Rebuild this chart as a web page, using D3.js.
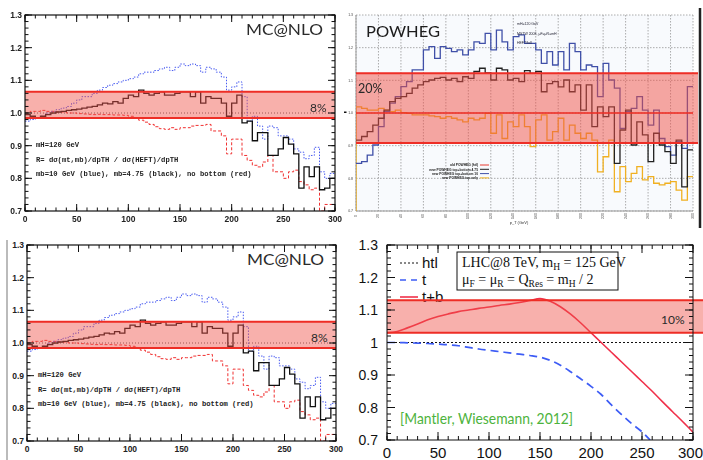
<!DOCTYPE html>
<html>
<head>
<meta charset="utf-8">
<script src="https://cdn.jsdelivr.net/npm/d3@7"></script>
<style>
body { margin: 0; background: #fff; }
svg { display: block; }
</style>
</head>
<body>
<svg id="chart" width="703" height="460"></svg>
<script>
// ---- data ----
// MC@NLO ratio histograms, 5 GeV bins from 0 to 300
const mcBinWidth = 5;
const mcBlack = [0.995,0.99,0.985,0.99,0.995,1.0,1.003,1.005,1.008,1.01,
  1.012,1.015,1.018,1.02,1.025,1.03,1.028,1.035,1.03,1.045,
  1.055,1.05,1.07,1.06,1.055,1.06,1.065,1.055,1.055,1.06,
  1.065,1.065,1.05,1.065,1.03,1.05,1.045,1.045,1.03,0.99,
  1.03,1.055,0.97,0.975,0.915,0.94,0.94,0.87,0.87,0.89,
  0.925,0.905,0.875,0.77,0.835,0.805,0.835,0.765,0.77,0.8];
const mcBlue = [0.975,0.98,0.985,0.99,1.0,1.005,1.01,1.015,1.02,1.03,
  1.04,1.05,1.05,1.06,1.07,1.078,1.085,1.09,1.095,1.1,
  1.105,1.11,1.12,1.125,1.125,1.13,1.135,1.14,1.13,1.14,
  1.15,1.145,1.15,1.145,1.125,1.14,1.135,1.125,1.11,1.07,
  1.08,1.095,1.05,0.975,0.99,0.96,0.92,0.96,0.955,0.93,
  0.93,0.92,0.89,0.88,0.86,0.87,0.895,0.82,0.8,0.815];
const mcRed = [1.0,1.005,1.005,1.008,1.005,1.005,1.003,1.003,1.0,1.0,
  0.998,0.997,0.996,0.995,0.996,0.995,0.995,0.994,0.994,0.993,
  0.99,0.985,0.978,0.972,0.965,0.958,0.952,0.95,0.955,0.95,
  0.955,0.955,0.96,0.962,0.962,0.965,0.945,0.945,0.93,0.875,
  0.92,0.92,0.87,0.855,0.84,0.835,0.85,0.87,0.82,0.82,
  0.8,0.82,0.825,0.79,0.78,0.765,0.77,0.7,0.72,0.72];

// POWHEG ratio histograms, 5 GeV bins
const pwBinWidth = 5;
const pwBlack = [0.917,0.928,0.943,0.963,0.984,1.009,1.035,1.045,1.05,1.06,
  1.076,1.086,1.096,1.101,1.106,1.109,1.101,1.106,1.096,1.111,
  1.106,1.127,1.137,1.123,1.101,1.137,1.132,1.101,1.106,1.096,
  1.13,1.121,1.127,1.065,1.09,1.096,1.08,1.101,1.065,1.086,
  1.009,1.086,0.958,1.019,0.989,1.019,0.846,0.948,1.009,0.902,
  0.973,0.933,0.851,0.938,0.902,0.882,0.846,0.917,0.774,0.887];
const pwBlue = [0.846,0.851,0.871,0.902,0.958,1.004,1.03,1.05,1.081,1.096,
  1.132,1.132,1.193,1.203,1.167,1.203,1.198,1.188,1.193,1.178,
  1.193,1.218,1.213,1.244,1.193,1.254,1.218,1.193,1.234,1.239,
  1.213,1.213,1.193,1.152,1.188,1.147,1.188,1.132,1.213,1.188,
  1.132,1.147,1.142,1.05,1.152,1.101,1.076,0.953,1.004,1.014,
  1.05,1.009,0.963,1.009,0.922,0.897,0.871,0.912,0.892,1.081];
const pwOrange = [1.019,1.014,1.009,1.009,1.014,1.009,1.004,1.009,1.001,0.999,
  0.994,0.994,0.994,0.991,0.989,0.984,0.989,0.984,0.979,0.973,
  0.984,0.979,0.984,0.999,0.938,0.994,0.922,0.973,0.958,0.994,
  0.958,0.897,0.979,0.994,0.917,0.943,0.984,0.917,0.963,0.938,
  0.922,0.938,0.917,0.82,0.866,0.917,0.759,0.836,0.79,0.815,
  0.836,0.795,0.805,0.785,0.78,0.785,0.79,0.764,0.733,0.805];
const pwLegend = ["old POWHEG (htl)", "new POWHEG top+bottom 4.75", "new POWHEG top+bottom 10", "new POWHEG top only"];
const pwColors = ["#e83a30", "#222222", "#3f50a8", "#f0b020"];

// Mantler-Wiesemann curves
const mwTbX = [0,10,20,30,40,50,60,70,80,90,100,110,120,130,140,150,160,170,180,190,200,210,220,230,240,250,260,270,280,290,300];
const mwTb = [1.03,1.034,1.045,1.057,1.07,1.08,1.088,1.095,1.1,1.105,1.109,1.114,1.118,1.123,1.129,1.135,1.127,1.11,1.087,1.06,1.03,1.0,0.97,0.94,0.91,0.88,0.85,0.818,0.787,0.756,0.724];
const mwTX = [0,10,20,30,40,50,60,70,80,90,100,110,120,130,140,150,160,170,180,190,200,210,220,230,240,250,258];
const mwT = [1.0,1.0,0.999,0.998,0.997,0.995,0.993,0.99,0.985,0.98,0.976,0.972,0.968,0.964,0.96,0.955,0.945,0.93,0.91,0.888,0.865,0.84,0.808,0.778,0.75,0.725,0.7];
const mwHtl = [1.0, 1.0];

const yTicks = [0.7, 0.8, 0.9, 1.0, 1.1, 1.2, 1.3];
const xTicks = [0, 50, 100, 150, 200, 250, 300];
const pwXTicks = d3.range(0, 301, 20);

const svg = d3.select("#chart");
const defs = svg.append("defs");
defs.append("filter").attr("id", "soft")
  .append("feGaussianBlur").attr("stdDeviation", 0.45);

const bandFill = "rgb(240,80,70)";
const bandLine = "#ee2d25";

function histLine(x, y, vals, w) {
  const pts = vals.map((v, i) => [i * w, v]);
  pts.push([vals.length * w, vals[vals.length - 1]]);
  return d3.line().x(d => x(d[0])).y(d => y(d[1])).curve(d3.curveStepAfter)(pts);
}

function clipFor(id, x, y) {
  defs.append("clipPath").attr("id", id).append("rect")
    .attr("x", x.range()[0]).attr("y", y.range()[1])
    .attr("width", x.range()[1] - x.range()[0])
    .attr("height", y.range()[0] - y.range()[1]);
}

// inward ticks on all four sides
function innerTicks(g, x, y, xMaj, xMin, yMaj, yMin, big, small) {
  const [x0, x1] = x.range(), [y1, y0] = y.range();
  const seg = [];
  xMin.forEach(v => seg.push([x(v), y1, x(v), y1 - small], [x(v), y0, x(v), y0 + small]));
  xMaj.forEach(v => seg.push([x(v), y1, x(v), y1 - big], [x(v), y0, x(v), y0 + big]));
  yMin.forEach(v => seg.push([x0, y(v), x0 + small, y(v)], [x1, y(v), x1 - small, y(v)]));
  yMaj.forEach(v => seg.push([x0, y(v), x0 + big, y(v)], [x1, y(v), x1 - big, y(v)]));
  g.append("g").selectAll("line").data(seg).join("line")
    .attr("x1", d => d[0]).attr("y1", d => d[1]).attr("x2", d => d[2]).attr("y2", d => d[3])
    .attr("stroke", "#111").attr("stroke-width", 1);
}

// ---- MC@NLO panel (drawn twice) ----
function mcPanel(id, left, right, top, bottom, blur, texts) {
  const g = svg.append("g");
  if (blur) g.attr("filter", "url(#soft)");
  const x = d3.scaleLinear().domain([0, 300]).range([left, right]);
  const y = d3.scaleLinear().domain([0.7, 1.3]).range([bottom, top]);
  clipFor(id, x, y);
  const inner = g.append("g").attr("clip-path", `url(#${id})`);

  inner.append("line")
    .attr("x1", x(0)).attr("x2", x(300)).attr("y1", y(1)).attr("y2", y(1))
    .attr("stroke", "#333").attr("stroke-width", 0.8).attr("stroke-dasharray", "1,2");
  inner.append("path").attr("d", histLine(x, y, mcRed, mcBinWidth))
    .attr("fill", "none").attr("stroke", "#f03030").attr("stroke-width", 1).attr("stroke-dasharray", "3,2");
  inner.append("path").attr("d", histLine(x, y, mcBlue, mcBinWidth))
    .attr("fill", "none").attr("stroke", "#4a5cf0").attr("stroke-width", 1).attr("stroke-dasharray", "1.5,1.5");
  inner.append("path").attr("d", histLine(x, y, mcBlack, mcBinWidth))
    .attr("fill", "none").attr("stroke", "#111").attr("stroke-width", 1.3);

  // 8% band
  g.append("rect").attr("x", x(0)).attr("width", x(300) - x(0))
    .attr("y", y(1.065)).attr("height", y(0.985) - y(1.065))
    .attr("fill", bandFill).attr("fill-opacity", 0.45);
  [1.065, 0.985].forEach(v => g.append("line")
    .attr("x1", x(0)).attr("x2", x(300)).attr("y1", y(v)).attr("y2", y(v))
    .attr("stroke", bandLine).attr("stroke-width", 2));

  g.append("rect").attr("x", left).attr("y", top).attr("width", right - left).attr("height", bottom - top)
    .attr("fill", "none").attr("stroke", "#111").attr("stroke-width", 1.2);
  innerTicks(g, x, y, xTicks, d3.range(0, 301, 10), yTicks, d3.range(0.7, 1.301, 0.02), 7, 3.5);

  g.append("g").selectAll("text").data(yTicks).join("text")
    .attr("x", left - 3).attr("y", d => y(d) + 3).attr("text-anchor", "end")
    .attr("font-family", "Liberation Sans, Arial, sans-serif").attr("font-weight", "bold")
    .attr("font-size", 8.5).attr("fill", "#222").text(d => d.toFixed(1));
  g.append("g").selectAll("text").data(xTicks).join("text")
    .attr("x", d => x(d)).attr("y", bottom + 11).attr("text-anchor", "middle")
    .attr("font-family", "Liberation Sans, Arial, sans-serif").attr("font-weight", "bold")
    .attr("font-size", 8.5).attr("fill", "#222").text(d => d);

  g.append("text").attr("x", right - 89).attr("y", top + 20)
    .attr("font-family", "Lato, 'Open Sans', sans-serif").attr("font-size", 15)
    .attr("textLength", 77).attr("lengthAdjust", "spacingAndGlyphs")
    .attr("fill", "#2a2a2a").text("MC@NLO");
  g.append("text").attr("x", right - 25).attr("y", y(1.0) - 1)
    .attr("font-family", "Lato, 'Open Sans', sans-serif").attr("font-size", 12)
    .attr("fill", "#2a2a2a").text("8%");

  texts.forEach((t, i) => g.append("text")
    .attr("x", left + 11).attr("y", y(0.895) + i * 14.5)
    .attr("font-family", "Liberation Mono, monospace").attr("font-weight", "bold")
    .attr("font-size", 7.2).attr("fill", "#222").text(t));
}

const mcTexts = ["mH=120 GeV", "R= d\u03c3(mt,mb)/dpTH / d\u03c3(HEFT)/dpTH",
  "mb=10 GeV (blue), mb=4.75 (black), no bottom (red)"];
mcPanel("clipA", 25, 335, 15, 211, true, mcTexts);
mcPanel("clipC", 27, 336, 245, 441, false, mcTexts);

// grey edge of the lower-left picture
svg.append("line").attr("x1", 7).attr("x2", 7).attr("y1", 240).attr("y2", 460)
  .attr("stroke", "#bbb").attr("stroke-width", 2);

// ---- POWHEG panel ----
(function () {
  const g = svg.append("g").attr("filter", "url(#soft)");
  const x = d3.scaleLinear().domain([0, 300]).range([356, 693]);
  const y = d3.scaleLinear().domain([0.7, 1.3]).range([211, 15]);
  clipFor("clipB", x, y);

  g.append("rect").attr("x", 356).attr("y", 15).attr("width", 337).attr("height", 196).attr("fill", "#f8fafd");
  g.append("g").selectAll("line").data(pwXTicks).join("line")
    .attr("x1", d => x(d)).attr("x2", d => x(d)).attr("y1", y(1.3)).attr("y2", y(0.7))
    .attr("stroke", "#8a8a8a").attr("stroke-width", 0.7).attr("stroke-dasharray", "1.5,1.5");
  g.append("g").selectAll("line").data(yTicks).join("line")
    .attr("x1", x(0)).attr("x2", x(300)).attr("y1", d => y(d)).attr("y2", d => y(d))
    .attr("stroke", "#8a8a8a").attr("stroke-width", 0.7).attr("stroke-dasharray", "1.5,1.5");
  g.append("line").attr("x1", x(0)).attr("x2", x(300)).attr("y1", y(0.7)).attr("y2", y(0.7))
    .attr("stroke", "#999").attr("stroke-width", 1);
  g.append("line").attr("x1", x(0)).attr("x2", x(0)).attr("y1", y(1.3)).attr("y2", y(0.7))
    .attr("stroke", "#999").attr("stroke-width", 1);

  const inner = g.append("g").attr("clip-path", "url(#clipB)");
  const orangePts = [[0, 0.7]].concat(pwOrange.map((v, i) => [i * pwBinWidth, v]), [[300, pwOrange[59]]]);
  inner.append("path")
    .attr("d", d3.line().x(d => x(d[0])).y(d => y(d[1])).curve(d3.curveStepAfter)(orangePts))
    .attr("fill", "none").attr("stroke", pwColors[3]).attr("stroke-width", 1.3);
  inner.append("path").attr("d", histLine(x, y, pwBlue, pwBinWidth))
    .attr("fill", "none").attr("stroke", pwColors[2]).attr("stroke-width", 1.3);
  inner.append("path").attr("d", histLine(x, y, pwBlack, pwBinWidth))
    .attr("fill", "none").attr("stroke", pwColors[1]).attr("stroke-width", 1.3);

  // 20% band
  g.append("rect").attr("x", 356).attr("width", 342)
    .attr("y", y(1.122)).attr("height", y(0.908) - y(1.122))
    .attr("fill", bandFill).attr("fill-opacity", 0.5);
  [1.122, 0.908].forEach(v => g.append("line")
    .attr("x1", 356).attr("x2", 698).attr("y1", y(v)).attr("y2", y(v))
    .attr("stroke", bandLine).attr("stroke-width", 2));
  g.append("line").attr("x1", 356).attr("x2", 693).attr("y1", y(1)).attr("y2", y(1))
    .attr("stroke", bandLine).attr("stroke-width", 1.4);

  // tiny tick labels
  g.append("g").selectAll("text").data(yTicks).join("text")
    .attr("x", 353).attr("y", d => y(d) + 1.2).attr("text-anchor", "end")
    .attr("font-family", "Liberation Sans, sans-serif").attr("font-size", 3.5).attr("fill", "#444")
    .text(d => d.toFixed(1));
  g.append("g").selectAll("text").data(pwXTicks).join("text")
    .attr("transform", d => `translate(${x(d) + 1},${216}) rotate(-90)`)
    .attr("text-anchor", "middle")
    .attr("font-family", "Liberation Sans, sans-serif").attr("font-size", 3.5).attr("fill", "#444")
    .text(d => d);
  g.append("text").attr("x", 519).attr("y", 224).attr("text-anchor", "middle")
    .attr("font-family", "Liberation Sans, sans-serif").attr("font-size", 4).attr("fill", "#333")
    .text("p_T (GeV)");

  ["mH=120 GeV", "MSTW 2008, \u03bcF=\u03bcR=mH", "HEFT/full"].forEach((t, i) => g.append("text")
    .attr("x", 517).attr("y", 25 + i * 9.5)
    .attr("font-family", "Liberation Sans, sans-serif").attr("font-size", 3.5).attr("fill", "#223")
    .text(t));

  // tiny legend
  pwLegend.forEach((t, i) => {
    const ly = 165 + i * 4.3;
    g.append("text").attr("x", 478).attr("y", ly + 1.2).attr("text-anchor", "end")
      .attr("font-family", "Liberation Sans, sans-serif").attr("font-size", 3.3).attr("font-weight", "bold")
      .attr("fill", "#222").text(t);
    g.append("line").attr("x1", 480).attr("x2", 489).attr("y1", ly).attr("y2", ly)
      .attr("stroke", pwColors[i]).attr("stroke-width", 1);
  });

  g.append("text").attr("x", 366).attr("y", 37)
    .attr("font-family", "Lato, 'Open Sans', sans-serif").attr("font-size", 15)
    .attr("textLength", 74).attr("lengthAdjust", "spacingAndGlyphs")
    .attr("fill", "#1a1a1a").text("POWHEG");
  g.append("text").attr("x", 358).attr("y", 93)
    .attr("font-family", "Lato, 'Open Sans', sans-serif").attr("font-size", 12.5)
    .attr("fill", "#2a2a2a").text("20%");

  svg.append("line").attr("x1", 700).attr("x2", 700).attr("y1", 8).attr("y2", 228)
    .attr("stroke", "#222").attr("stroke-width", 2.5);
  svg.append("rect").attr("x", 344).attr("y", 111.5).attr("width", 2.5).attr("height", 1.5).attr("fill", "#111");
})();

// ---- Mantler-Wiesemann panel ----
(function () {
  const g = svg.append("g");
  const left = 387, right = 693, top = 245, bottom = 440;
  const x = d3.scaleLinear().domain([0, 300]).range([left, right]);
  const y = d3.scaleLinear().domain([0.7, 1.3]).range([bottom, top]);
  clipFor("clipD", x, y);
  const inner = g.append("g").attr("clip-path", "url(#clipD)");
  const line = d3.line().x(d => x(d[0])).y(d => y(d[1])).curve(d3.curveMonotoneX);

  inner.append("path").attr("d", line([[0, mwHtl[0]], [300, mwHtl[1]]]))
    .attr("fill", "none").attr("stroke", "#111").attr("stroke-width", 1).attr("stroke-dasharray", "2,2");
  inner.append("path").attr("d", line(mwTX.map((v, i) => [v, mwT[i]])))
    .attr("fill", "none").attr("stroke", "#3d5cf5").attr("stroke-width", 1.7).attr("stroke-dasharray", "8,5");
  inner.append("path").attr("d", line(mwTbX.map((v, i) => [v, mwTb[i]])))
    .attr("fill", "none").attr("stroke", "#f0304a").attr("stroke-width", 1.6);

  // legend
  const lf = "Liberation Sans, Arial, sans-serif";
  const leg = [["htl", "#111", "2,2", 1], ["t", "#3d5cf5", "6,5", 1.7], ["t+b", "#f0304a", null, 1.6]];
  leg.forEach((d, i) => {
    const ly = 263 + i * 17;
    g.append("line").attr("x1", 400).attr("x2", 418).attr("y1", ly).attr("y2", ly)
      .attr("stroke", d[1]).attr("stroke-width", d[3]).attr("stroke-dasharray", d[2]);
    g.append("text").attr("x", 422).attr("y", ly + 5).attr("font-family", lf).attr("font-size", 15)
      .attr("fill", "#111").text(d[0]);
  });

  g.append("rect").attr("x", 457).attr("y", 252).attr("width", 161).attr("height", 38)
    .attr("fill", "#fff").attr("stroke", "#111").attr("stroke-width", 1);
  const sf = "Liberation Serif, 'Times New Roman', serif";
  const t1 = g.append("text").attr("x", 462).attr("y", 267).attr("font-family", sf).attr("font-size", 14).attr("fill", "#111");
  t1.append("tspan").text("LHC@8 TeV, m");
  t1.append("tspan").attr("font-size", 9.5).attr("dy", 3).text("H");
  t1.append("tspan").attr("dy", -3).text(" = 125 GeV");
  const t2 = g.append("text").attr("x", 462).attr("y", 284).attr("font-family", sf).attr("font-size", 14).attr("fill", "#111");
  [["\u03bc", "F", " = "], ["\u03bc", "R", " = "], ["Q", "Res", " = "], ["m", "H", " / 2"]].forEach(p => {
    t2.append("tspan").text(p[0]);
    t2.append("tspan").attr("font-size", 9.5).attr("dy", 3).text(p[1]);
    t2.append("tspan").attr("dy", -3).text(p[2]);
  });

  // 10% band
  g.append("rect").attr("x", left).attr("width", 703 - left)
    .attr("y", y(1.13)).attr("height", y(1.03) - y(1.13))
    .attr("fill", bandFill).attr("fill-opacity", 0.45);
  [1.13, 1.03].forEach(v => g.append("line")
    .attr("x1", left).attr("x2", 703).attr("y1", y(v)).attr("y2", y(v))
    .attr("stroke", bandLine).attr("stroke-width", 2));
  g.append("text").attr("x", 661).attr("y", 324)
    .attr("font-family", "Lato, 'Open Sans', sans-serif").attr("font-size", 12).attr("fill", "#2a2a2a").text("10%");

  g.append("rect").attr("x", left).attr("y", top).attr("width", right - left).attr("height", bottom - top)
    .attr("fill", "none").attr("stroke", "#111").attr("stroke-width", 1);
  innerTicks(g, x, y, xTicks, d3.range(0, 301, 10), yTicks, d3.range(0.7, 1.301, 0.02), 8, 4);

  g.append("g").selectAll("text").data(yTicks).join("text")
    .attr("x", left - 9).attr("y", d => y(d) + 5).attr("text-anchor", "end")
    .attr("font-family", lf).attr("font-size", 14).attr("fill", "#111")
    .text(d => d === 1 ? "1" : d.toFixed(1));
  g.append("g").selectAll("text").data(xTicks).join("text")
    .attr("x", d => d === 300 ? 703 : x(d)).attr("y", bottom + 18)
    .attr("text-anchor", d => d === 300 ? "end" : "middle")
    .attr("font-family", lf).attr("font-size", 15).attr("fill", "#111").text(d => d);

  g.append("text").attr("x", 400).attr("y", 424)
    .attr("font-family", "Lato, 'Open Sans', sans-serif").attr("font-size", 16)
    .attr("textLength", 173).attr("lengthAdjust", "spacingAndGlyphs")
    .attr("fill", "#4db33d").text("[Mantler, Wiesemann, 2012]");
})();
</script>
</body>
</html>
